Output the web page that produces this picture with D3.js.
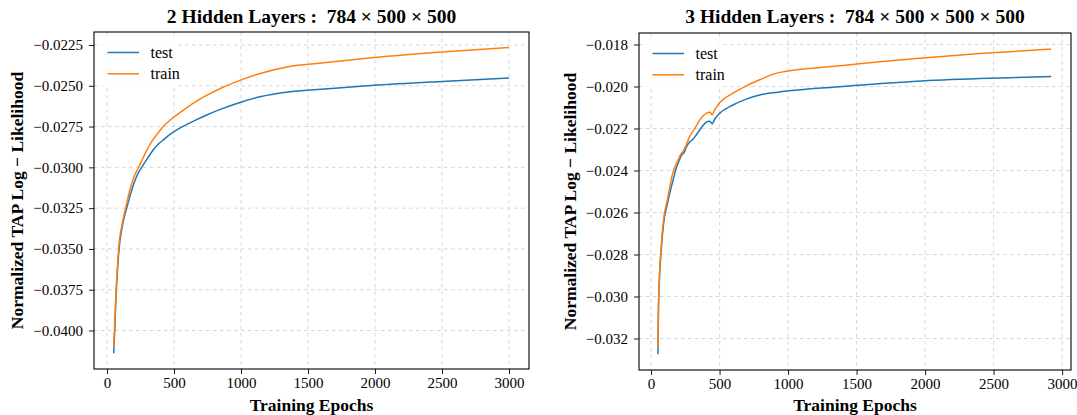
<!DOCTYPE html>
<html>
<head>
<meta charset="utf-8">
<script src="https://cdn.jsdelivr.net/npm/d3@7"></script>
<style>
  body { margin: 0; background: #fff; }
  svg text { font-family: "Liberation Serif", "DejaVu Serif", serif; fill: #000; }
</style>
</head>
<body>
<script>
// left panel: 2 hidden layers
var epochs2 = [50, 54, 58, 64, 70, 80, 90, 110, 130, 147, 170, 200, 230, 259, 300, 343, 380, 420, 483, 560, 657, 736, 850, 992, 1150, 1351, 1600, 1992, 2500, 3000]
var test2 = [-0.0414, -0.0406, -0.0400, -0.0386, -0.0375, -0.0361, -0.0350, -0.0338, -0.0330, -0.0325, -0.0318, -0.0310, -0.0304, -0.0300, -0.02947, -0.02895, -0.02860, -0.02832, -0.02790, -0.02752, -0.02712, -0.02682, -0.02643, -0.02602, -0.02566, -0.02538, -0.02521, -0.02497, -0.02473, -0.02452]
var train2 = [-0.0410, -0.0402, -0.0395, -0.0382, -0.0372, -0.0358, -0.0347, -0.0336, -0.0328, -0.0322, -0.0314, -0.0306, -0.0301, -0.0296, -0.0289, -0.0283, -0.0279, -0.0275, -0.02702, -0.02655, -0.02600, -0.02562, -0.02515, -0.02467, -0.02423, -0.02383, -0.02360, -0.02327, -0.02293, -0.02265]

// right panel: 3 hidden layers
var epochs3 = [50, 54, 61, 73, 90, 122, 159, 183, 207, 220, 232, 245, 256, 280, 300, 320, 354, 402, 427, 439, 446, 463, 471, 500, 598, 695, 793, 925, 1400, 1938, 2400, 2920]
var test3 = [-0.03275, -0.0307, -0.0292, -0.0279, -0.0266, -0.0255, -0.0245, -0.0239, -0.0235, -0.0233, -0.0232, -0.0231, -0.0229, -0.02265, -0.02255, -0.02240, -0.02208, -0.02171, -0.02166, -0.02172, -0.02178, -0.02158, -0.02150, -0.02128, -0.02088, -0.02060, -0.02040, -0.02027, -0.02000, -0.01975, -0.01962, -0.01952]
var train3 = [-0.03243, -0.0305, -0.0290, -0.0277, -0.0264, -0.0253, -0.0241, -0.0237, -0.02336, -0.0232, -0.0231, -0.02295, -0.0228, -0.0224, -0.02218, -0.02200, -0.02160, -0.02128, -0.02123, -0.02128, -0.02135, -0.02112, -0.02104, -0.02077, -0.02032, -0.01997, -0.01968, -0.01935, -0.01900, -0.01867, -0.01843, -0.01822]

var xTicks = [0, 500, 1000, 1500, 2000, 2500, 3000]
var yTicks2 = [-0.0400, -0.0375, -0.0350, -0.0325, -0.0300, -0.0275, -0.0250, -0.0225]
var yTicks3 = [-0.032, -0.030, -0.028, -0.026, -0.024, -0.022, -0.020, -0.018]
var seriesNames = ["test", "train"]
var colors = ["#1f77b4", "#ff7f0e"]

var svg = d3.select("body").append("svg")
  .attr("width", 1077)
  .attr("height", 415)

var drawPanel = function(p){
  var xScale = d3.scaleLinear().domain(p.xDomain).range([p.left, p.right])
  var yScale = d3.scaleLinear().domain(p.yDomain).range([p.bottom, p.top])
  var g = svg.append("g")

  // grid
  g.selectAll(".vg").data(xTicks).enter().append("line")
    .attr("x1", function(d){ return xScale(d) }).attr("x2", function(d){ return xScale(d) })
    .attr("y1", p.top).attr("y2", p.bottom)
    .style("stroke", "#d3d3d3").style("stroke-width", 0.9).style("stroke-dasharray", "3.5,3.5")
  g.selectAll(".hg").data(p.yTicks).enter().append("line")
    .attr("x1", p.left).attr("x2", p.right)
    .attr("y1", function(d){ return yScale(d) }).attr("y2", function(d){ return yScale(d) })
    .style("stroke", "#d3d3d3").style("stroke-width", 0.9).style("stroke-dasharray", "3.5,3.5")

  // lines
  var series = [p.test, p.train]
  series.forEach(function(vals, si){
    var line = d3.line()
      .x(function(d, i){ return xScale(p.epochs[i]) })
      .y(function(d){ return yScale(d) })
      .curve(d3.curveMonotoneX)
    g.append("path").datum(vals)
      .attr("d", line)
      .style("fill", "none")
      .style("stroke", colors[si])
      .style("stroke-width", 1.5)
  })

  // legend
  g.append("rect")
    .attr("x", p.left + 6).attr("y", p.top + 6)
    .attr("width", 78).attr("height", 50)
    .style("fill", "#fff").style("opacity", 0.8)
  seriesNames.forEach(function(name, i){
    var ly = p.top + 20.5 + i * 21.3
    g.append("line")
      .attr("x1", p.left + 13.5).attr("x2", p.left + 45)
      .attr("y1", ly).attr("y2", ly)
      .style("stroke", colors[i]).style("stroke-width", 1.5)
    g.append("text")
      .attr("x", p.left + 56.5).attr("y", ly + 5)
      .style("font-size", "16px")
      .text(name)
  })

  // axes
  var xAxis = d3.axisBottom(xScale).tickValues(xTicks).tickSize(5).tickPadding(3).tickFormat(d3.format("d"))
  var yAxis = d3.axisLeft(yScale).tickValues(p.yTicks).tickSize(5).tickPadding(6).tickFormat(d3.format(p.fmt))
  var gx = g.append("g").attr("transform", "translate(0," + p.bottom + ")").call(xAxis)
  var gy = g.append("g").attr("transform", "translate(" + p.left + ",0)").call(yAxis)
  ;[gx, gy].forEach(function(a){
    a.select(".domain").remove()
    a.selectAll("line").style("stroke", "#000").style("stroke-width", 0.9)
    a.selectAll("text").style("font-size", "15px").style("font-family", "Liberation Serif, serif")
  })

  // frame
  g.append("rect")
    .attr("x", p.left).attr("y", p.top)
    .attr("width", p.right - p.left).attr("height", p.bottom - p.top)
    .style("fill", "none").style("stroke", "#000").style("stroke-width", 1.1)

  // labels
  g.append("text")
    .attr("x", (p.left + p.right) / 2).attr("y", 23)
    .attr("text-anchor", "middle")
    .style("font-size", "19.5px").style("font-weight", "bold")
    .style("white-space", "pre")
    .text(p.title)
  g.append("text")
    .attr("x", (p.left + p.right) / 2).attr("y", 411)
    .attr("text-anchor", "middle")
    .style("font-size", "17.5px").style("font-weight", "bold")
    .text("Training Epochs")
  g.append("text")
    .attr("transform", "translate(" + p.ylabX + "," + ((p.top + p.bottom) / 2) + ") rotate(-90)")
    .attr("text-anchor", "middle")
    .style("font-size", "17.5px").style("font-weight", "bold")
    .text("Normalized TAP Log \u2212 Likelihood")
}

drawPanel({
  title: "2 Hidden Layers :  784 \u00d7 500 \u00d7 500",
  epochs: epochs2, test: test2, train: train2,
  yTicks: yTicks2, fmt: ".4f",
  xDomain: [-97, 3149], yDomain: [-0.04236, -0.021703],
  left: 94, right: 529, top: 32, bottom: 369, ylabX: 23
})

drawPanel({
  title: "3 Hidden Layers :  784 \u00d7 500 \u00d7 500 \u00d7 500",
  epochs: epochs3, test: test3, train: train3,
  yTicks: yTicks3, fmt: ".3f",
  xDomain: [-88, 3065], yDomain: [-0.0335, -0.017452],
  left: 639, right: 1071, top: 33, bottom: 370, ylabX: 576
})
</script>
</body>
</html>
